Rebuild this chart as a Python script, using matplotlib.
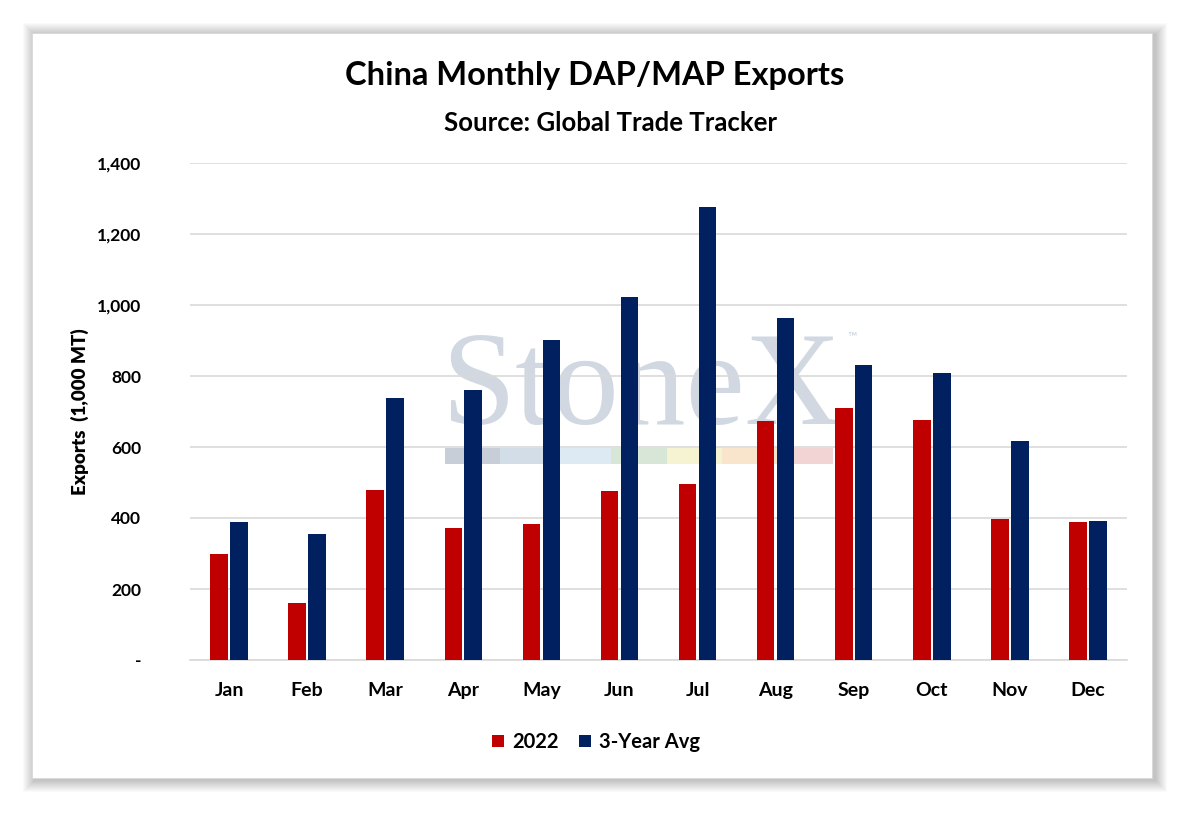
import matplotlib.pyplot as plt
import numpy as np
from matplotlib.patches import Rectangle
from matplotlib.ticker import FuncFormatter

months = ['Jan', 'Feb', 'Mar', 'Apr', 'May', 'Jun', 'Jul', 'Aug', 'Sep', 'Oct', 'Nov', 'Dec']
exp_2022 = [300, 160, 479, 372, 383, 476, 496, 673, 710, 676, 397, 389]
exp_avg = [389, 355, 738, 761, 901, 1023, 1276, 963, 831, 808, 617, 392]

plt.rcParams['font.family'] = ['Lato', 'DejaVu Sans']

W, H = 1188, 814
fig = plt.figure(figsize=(W / 100, H / 100), dpi=100)
fig.patch.set_facecolor('white')

# panel with soft shadow
px0, py0, px1, py1 = 32, 33, 1152, 778
for i in range(12, 0, -1):
    fig.patches.append(Rectangle(((px0 - i + 3) / W, 1 - (py1 + i + 2) / H),
                                 (px1 - px0 + 2 * i) / W, (py1 - py0 + 2 * i) / H,
                                 transform=fig.transFigure, facecolor='black',
                                 alpha=0.02, edgecolor='none', zorder=0))
fig.patches.append(Rectangle((px0 / W, 1 - py1 / H), (px1 - px0) / W, (py1 - py0) / H,
                             transform=fig.transFigure, facecolor='white',
                             edgecolor='#d8d8d8', lw=0.6, zorder=1))

ax = fig.add_axes([190 / W, 1 - 660 / H, (1127 - 190) / W, (660 - 163) / H], zorder=3)
ax.patch.set_alpha(0)

x = np.arange(len(months))
bw = 0.225
gap = 0.03
ax.bar(x - bw / 2 - gap / 2, exp_2022, bw, color='#C00000', label='2022', zorder=3)
ax.bar(x + bw / 2 + gap / 2, exp_avg, bw, color='#002060', label='3-Year Avg', zorder=3)

ax.set_xlim(-0.5, 11.5)
ax.set_ylim(0, 1400)
ax.set_yticks(range(0, 1401, 200))
ax.yaxis.set_major_formatter(FuncFormatter(lambda v, p: '-' if v == 0 else f'{int(v):,}'))
ax.set_xticks(x)
ax.set_xticklabels(months)
ax.grid(axis='y', color='#d9d9d9', lw=1.2, zorder=0)
for s in ['top', 'right', 'left']:
    ax.spines[s].set_visible(False)
ax.spines['bottom'].set_color('#d9d9d9')
ax.spines['bottom'].set_linewidth(1.2)
ax.tick_params(axis='x', length=0, labelsize=14, pad=16)
ax.tick_params(axis='y', length=0, labelsize=12.5, pad=35)
for lab in ax.get_xticklabels() + ax.get_yticklabels():
    lab.set_fontweight('bold')
ax.set_ylabel('Exports  (1,000 MT)', fontsize=13.5, fontweight='heavy', labelpad=6)

# watermark
fig.text(441 / W, 1 - 424 / H, 'StoneX', fontsize=96, family='Liberation Serif',
         color='#c9d2dc', alpha=0.85, zorder=2, va='baseline')
fig.text(847 / W, 1 - 336 / H, '™', fontsize=9, color='#c9d2dc', zorder=2, va='center')
strip = ['#c7ced8', '#d3dde8', '#dde9f3', '#d8e6d8', '#f6f3d2', '#f9e4cc', '#f3d4d4']
sw = (833 - 445) / len(strip)
for i, c in enumerate(strip):
    fig.patches.append(Rectangle(((445 + i * sw) / W, 1 - 464 / H), sw / W, 16 / H,
                                 transform=fig.transFigure, facecolor=c,
                                 edgecolor='none', zorder=2))

fig.text(595 / W, 1 - 75 / H, 'China Monthly DAP/MAP Exports', ha='center', va='center',
         fontsize=23.5, fontweight='bold', zorder=4)
fig.text(610 / W, 1 - 123 / H, 'Source: Global Trade Tracker', ha='center', va='center',
         fontsize=18.5, fontweight='bold', zorder=4)

fig.legend(loc='center', bbox_to_anchor=(596 / W, 1 - 742 / H), ncol=2, frameon=False,
           prop={'weight': 'bold', 'size': 14.5}, handlelength=0.6, handleheight=0.6,
           columnspacing=1.0, handletextpad=0.4)

fig.savefig('out.png', dpi=100, facecolor='white')
